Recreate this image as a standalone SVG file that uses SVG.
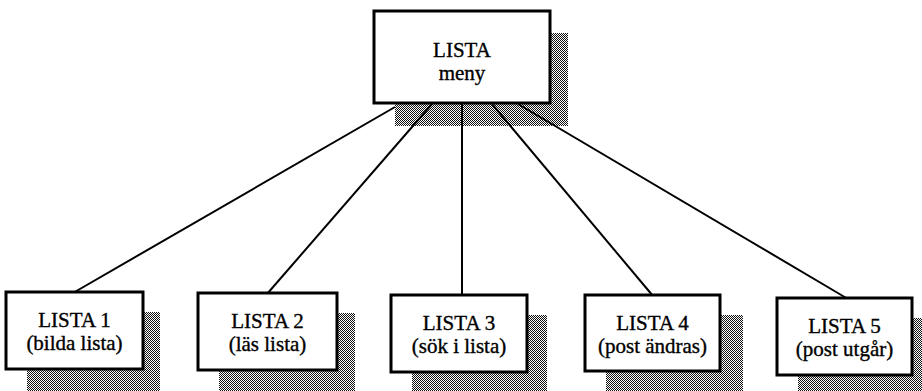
<svg xmlns="http://www.w3.org/2000/svg" width="922" height="391" viewBox="0 0 922 391">
  <defs>
    <!-- halftone checkerboard used for drop shadows -->
    <pattern id="dots" patternUnits="userSpaceOnUse" width="2" height="2">
      <rect x="0" y="0" width="2" height="2" fill="#fff"/>
      <rect x="0" y="0" width="1" height="1" fill="#111"/>
      <rect x="1" y="1" width="1" height="1" fill="#111"/>
    </pattern>
  </defs>
  <style>
    .shadow { fill: url(#dots); shape-rendering: crispEdges; }
    .box { fill: #fff; stroke: #000; stroke-width: 3; }
    .link { stroke: #000; stroke-width: 2; fill: none; }
    .t { font-family: "Liberation Serif", "Times New Roman", serif; font-size: 21px; text-anchor: middle; fill: #000; stroke: #000; stroke-width: 0.35; }
  </style>
  <rect width="922" height="391" fill="#fff"/>

  <!-- shadows -->
  <g id="shadows">
    <rect class="shadow" x="395" y="33" width="173" height="93"/>
    <rect class="shadow" x="27" y="312" width="133" height="79"/>
    <rect class="shadow" x="219" y="313" width="136" height="78"/>
    <rect class="shadow" x="412" y="315" width="135" height="76"/>
    <rect class="shadow" x="606" y="315" width="137" height="76"/>
    <rect class="shadow" x="798" y="318" width="124" height="73"/>
  </g>

  <!-- connectors -->
  <g id="connectors">
    <line class="link" x1="395" y1="107" x2="73" y2="293"/>
    <line class="link" x1="432" y1="104" x2="267" y2="294"/>
    <line class="link" x1="462" y1="104" x2="462" y2="296"/>
    <line class="link" x1="492" y1="104" x2="653" y2="296"/>
    <line class="link" x1="518" y1="104" x2="848" y2="299"/>
  </g>

  <g id="lista-meny">
    <rect class="box" x="374" y="11" width="176" height="92"/>
    <text class="t" x="462" y="57">LISTA</text>
    <text class="t" x="462" y="80">meny</text>
  </g>

  <g id="lista-1">
    <rect class="box" x="6" y="292" width="137" height="77"/>
    <text class="t" x="74.5" y="327">LISTA 1</text>
    <text class="t" x="74.5" y="350">(bilda lista)</text>
  </g>

  <g id="lista-2">
    <rect class="box" x="198" y="293" width="139" height="77"/>
    <text class="t" x="267.5" y="328">LISTA 2</text>
    <text class="t" x="267.5" y="351">(läs lista)</text>
  </g>

  <g id="lista-3">
    <rect class="box" x="391" y="295" width="136" height="77"/>
    <text class="t" x="459" y="330">LISTA 3</text>
    <text class="t" x="459" y="353">(sök i lista)</text>
  </g>

  <g id="lista-4">
    <rect class="box" x="585" y="295" width="135" height="76"/>
    <text class="t" x="652.5" y="330">LISTA 4</text>
    <text class="t" x="652.5" y="353">(post ändras)</text>
  </g>

  <g id="lista-5">
    <rect class="box" x="777" y="298" width="135" height="77"/>
    <text class="t" x="844.5" y="333">LISTA 5</text>
    <text class="t" x="844.5" y="356">(post utgår)</text>
  </g>
</svg>
